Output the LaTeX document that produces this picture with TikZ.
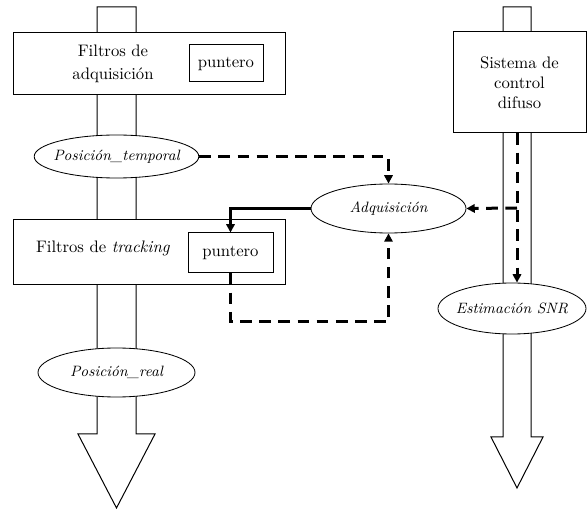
\documentclass[tikz,border=0pt]{standalone}
\usepackage{fontspec}
\usetikzlibrary{positioning,arrows.meta,backgrounds,shapes.geometric}

\begin{document}
\begin{tikzpicture}[x=0.6pt, y=-0.6pt,
    caja/.style={draw, line width=0.6pt, fill=white, inner sep=0pt, align=center},
    dato/.style={draw, ellipse, line width=0.5pt, fill=white, inner xsep=-3pt,
        inner ysep=0pt, font=\small\itshape},
    etiq/.style={align=center, inner sep=0pt},
    flujo/.style={-{Triangle[length=5pt,width=5pt]}, line width=1.8pt},
    flujodash/.style={flujo, dash pattern=on 7pt off 4.5pt},
    tubo/.style={draw, line width=0.6pt},
]
\useasboundingbox (0,0) rectangle (587,509);

% Filter boxes
\node[caja, minimum width=163.2pt, minimum height=37.2pt] (fadq) at (149,64) {};
\node[etiq] (tadq) at (113,64) {Filtros de\\[1.5pt]adquisición};
\node[caja, minimum width=44.4pt, minimum height=22.2pt] (punt1) at (226,63.5) {puntero};
\node[caja, minimum width=163.2pt, minimum height=39pt] (ftrk) at (149,252.5) {};
\node[etiq] (ttrk) at (103,248) {Filtros de \textit{tracking}};
\node[caja, minimum width=51pt, minimum height=24pt] (punt2) at (230.5,253) {puntero};
\node[caja, minimum width=79.8pt, minimum height=60.6pt] (sctrl) at (519.5,82.5)
    {Sistema de\\control\\difuso};

% Data ellipses
\node[dato, minimum width=94.2pt, minimum height=25.8pt] (ptemp) at (116.5,156.5)
    {Posición\_temporal};
\node[dato, minimum width=94.2pt, minimum height=29.4pt] (preal) at (116.5,372.5)
    {Posición\_real};
\node[dato, minimum width=93pt, minimum height=29.4pt] (adq) at (388.5,208.5)
    {Adquisición};
\node[dato, minimum width=88.8pt, minimum height=30.6pt] (snr) at (512,308.5)
    {Estimación SNR};

% Big flow arrows behind the nodes
\begin{scope}[on background layer]
  \draw[tubo] (97,7) -- (136,7) -- (136,434) -- (155,434) -- (116.5,508)
      -- (78,434) -- (97,434) -- cycle;
  \draw[tubo] (503,7) -- (531,7) -- (531,437) -- (543,437) -- (517,488)
      -- (491,437) -- (503,437) -- cycle;
\end{scope}

% Connectors
\coordinate (ejeR) at (517,208);
\draw[flujodash] (ptemp.east) -| (adq.north);
\draw[flujo] (adq.west) -| (punt2.north);
\draw[flujodash] (punt2.south) -- ++(0,48) -| (adq.south);
\draw[flujodash] (ejeR) -- (adq.east);
\draw[flujodash] (sctrl.south -| ejeR) -- (snr.north -| ejeR);

\end{tikzpicture}
\end{document}
